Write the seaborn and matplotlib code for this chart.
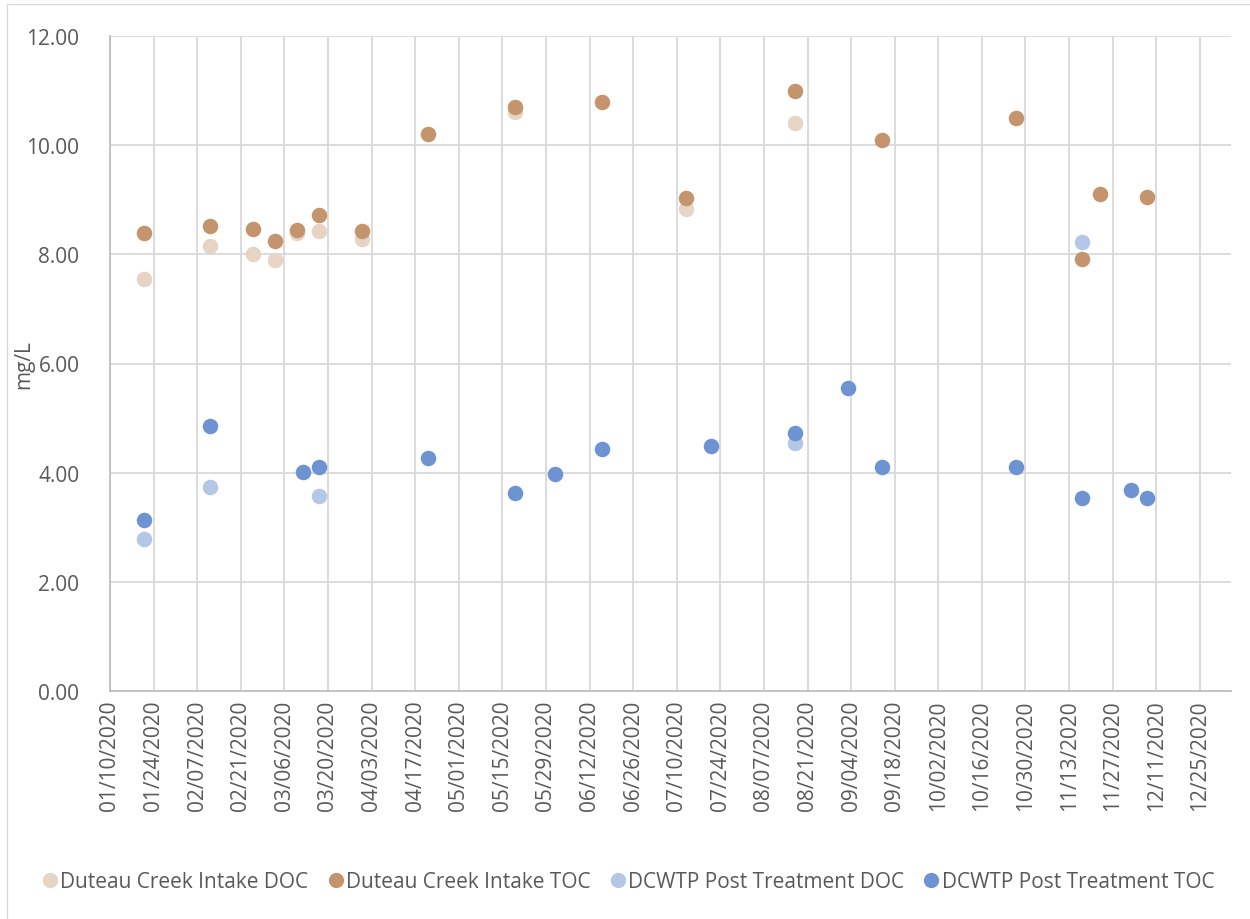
import matplotlib
matplotlib.use("Agg")
import matplotlib.pyplot as plt
import matplotlib.dates as mdates
from matplotlib.patches import Rectangle
from matplotlib.lines import Line2D
import numpy as np
import pandas as pd
import seaborn as sns

# Sampling dates and results (mg/L)
intake_toc_dates = ["2020-01-21", "2020-02-11", "2020-02-25", "2020-03-03", "2020-03-10",
                    "2020-03-17", "2020-03-31", "2020-04-21", "2020-05-19", "2020-06-16",
                    "2020-07-13", "2020-08-17", "2020-09-14", "2020-10-27", "2020-11-17",
                    "2020-11-23", "2020-12-08"]
intake_toc = [8.40, 8.52, 8.46, 8.25, 8.45, 8.72, 8.42, 10.20, 10.70, 10.80,
              9.03, 11.00, 10.10, 10.50, 7.92, 9.10, 9.05]

intake_doc_dates = ["2020-01-21", "2020-02-11", "2020-02-25", "2020-03-03", "2020-03-10",
                    "2020-03-17", "2020-03-31", "2020-05-19", "2020-07-13", "2020-08-17"]
intake_doc = [7.54, 8.16, 8.00, 7.89, 8.39, 8.43, 8.29, 10.60, 8.83, 10.40]

post_toc_dates = ["2020-01-21", "2020-02-11", "2020-03-12", "2020-03-17", "2020-04-21",
                  "2020-05-19", "2020-06-01", "2020-06-16", "2020-07-21", "2020-08-17",
                  "2020-09-03", "2020-09-14", "2020-10-27", "2020-11-17", "2020-12-03",
                  "2020-12-08"]
post_toc = [3.14, 4.85, 4.01, 4.10, 4.27, 3.62, 3.97, 4.43, 4.49, 4.72,
            5.55, 4.10, 4.11, 3.53, 3.69, 3.54]

post_doc_dates = ["2020-01-21", "2020-02-11", "2020-03-17", "2020-08-17", "2020-11-17"]
post_doc = [2.78, 3.74, 3.58, 4.54, 8.22]

series_names = ["Duteau Creek Intake DOC", "Duteau Creek Intake TOC",
                "DCWTP Post Treatment DOC", "DCWTP Post Treatment TOC"]
series_colors = ["#E6D4C4", "#C4956C", "#B4C7E7", "#6E93D3"]

frames = []
for name, dates, vals in zip(series_names,
                             [intake_doc_dates, intake_toc_dates, post_doc_dates, post_toc_dates],
                             [intake_doc, intake_toc, post_doc, post_toc]):
    frames.append(pd.DataFrame({"date": pd.to_datetime(dates), "value": vals, "series": name}))
df = pd.concat(frames, ignore_index=True)

sns.set_theme(style="white")
plt.rcParams["font.family"] = ["Open Sans", "DejaVu Sans"]

fig = plt.figure(figsize=(12.5, 9.2), dpi=100)
ax = fig.add_axes([110 / 1250, 1 - 692 / 920, (1231 - 110) / 1250, (692 - 37) / 920])

# outer chart frame
fig.patches.append(Rectangle((7 / 1250, -0.1), 1.2, 1 - 5 / 920 + 0.1, transform=fig.transFigure,
                             fill=False, edgecolor="#D9D9D9", linewidth=1.0, zorder=0))

for name, color in zip(series_names, series_colors):
    sub = df[df["series"] == name]
    sns.scatterplot(data=sub, x="date", y="value", color=color, s=125, linewidth=0,
                    ax=ax, legend=False, zorder=3)

ticks = pd.date_range("2020-01-10", "2020-12-25", freq="14D")
ax.set_xlim(pd.Timestamp("2020-01-10"), pd.Timestamp("2021-01-04"))
ax.set_xticks(ticks)
ax.xaxis.set_major_formatter(mdates.DateFormatter("%m/%d/%Y"))
ax.set_ylim(0, 12)
ax.set_yticks(np.arange(0, 12.01, 2))
ax.yaxis.set_major_formatter(matplotlib.ticker.FormatStrFormatter("%.2f"))

ax.grid(True, color="#D9D9D9", linewidth=1.3)
ax.set_axisbelow(True)
for side in ["top", "right"]:
    ax.spines[side].set_visible(False)
ax.spines["left"].set_color("#BFBFBF")
ax.spines["bottom"].set_color("#BFBFBF")
ax.spines["left"].set_linewidth(1.3)
ax.spines["bottom"].set_linewidth(1.3)

ax.tick_params(axis="x", labelrotation=90, labelsize=15, colors="#595959", length=0, pad=6)
ax.tick_params(axis="y", labelsize=15, colors="#595959", length=0, pad=22)
ax.set_xlabel("")
ax.set_ylabel("mg/L", fontsize=15, color="#595959", labelpad=2)
ax.yaxis.set_label_coords(-76 / 1121, 0.5)

handles = [Line2D([0], [0], marker="o", linestyle="", markersize=11, markerfacecolor=c,
                  markeredgewidth=0) for c in series_colors]
fig.legend(handles, series_names, loc="center", bbox_to_anchor=(627 / 1250, 1 - 883 / 920),
           ncol=4, frameon=False, fontsize=15, handletextpad=0.0, columnspacing=0.8,
           labelcolor="#595959", handlelength=1.0)

fig.savefig("out.png", dpi=100)
